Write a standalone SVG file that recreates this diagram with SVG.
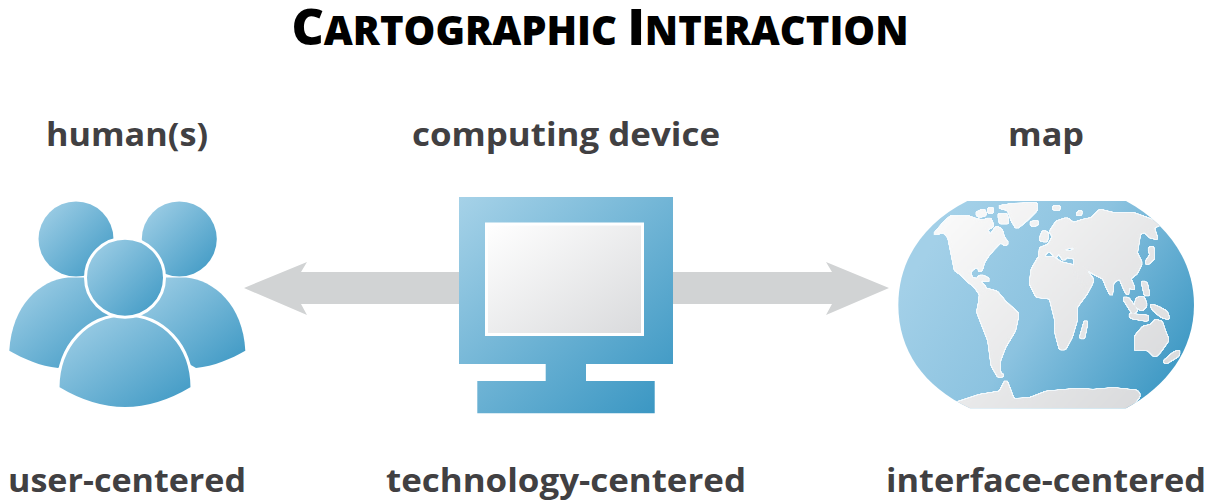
<svg xmlns="http://www.w3.org/2000/svg" width="1215" height="504" viewBox="0 0 1215 504">
<style>
.t{font-family:"Open Sans","Liberation Sans",sans-serif;font-weight:700;fill:#414042;text-anchor:middle}
.l{font-size:33px}
.h{font-family:"Open Sans","Liberation Sans",sans-serif;font-weight:800;fill:#000;text-anchor:middle;font-size:50px}
.s{font-size:40px}
.b{fill:url(#blue)}
.w{stroke:#fff;stroke-width:3}
.land path{fill:url(#land);fill-rule:evenodd}
.arrow{fill:#d1d3d4}
</style>
<defs>
<linearGradient id="blue" x1="0" y1="0" x2="1" y2="1"><stop offset="0" stop-color="#a6d2e8"/><stop offset="1" stop-color="#3b97c3"/></linearGradient>
<linearGradient id="bluep" gradientUnits="userSpaceOnUse" x1="459" y1="197" x2="655" y2="413"><stop offset="0" stop-color="#a6d2e8"/><stop offset="1" stop-color="#3b97c3"/></linearGradient>
<linearGradient id="blueg" gradientUnits="userSpaceOnUse" x1="180" y1="130" x2="880" y2="600"><stop offset="0" stop-color="#a3d0e8"/><stop offset=".45" stop-color="#8cc3e0"/><stop offset="1" stop-color="#3b97c3"/></linearGradient>
<linearGradient id="land" gradientUnits="userSpaceOnUse" x1="200" y1="60" x2="800" y2="640"><stop offset="0" stop-color="#fafafa"/><stop offset="1" stop-color="#d9dadc"/></linearGradient>
<linearGradient id="screen" x1="0" y1="0" x2="1" y2="1"><stop offset="0" stop-color="#fff"/><stop offset="1" stop-color="#d9dadc"/></linearGradient>
<clipPath id="gl"><path d="M262,33 L738,33 C860,100 942,210 942,345 C942,480 860,590 738,655 L270,655 C130,590 55,480 55,345 C55,210 130,100 262,33 Z"/></clipPath>
<filter id="organic" filterUnits="userSpaceOnUse" x="0" y="0" width="1000" height="700" color-interpolation-filters="sRGB">
<feGaussianBlur in="SourceGraphic" stdDeviation="3" result="bl"/>
<feComponentTransfer in="bl" result="shape"><feFuncA type="linear" slope="10" intercept="-3.500"/></feComponentTransfer>
<feMorphology in="shape" operator="dilate" radius="3" result="fat"/>
<feFlood flood-color="#fff" flood-opacity=".9"/>
<feComposite in2="fat" operator="in" result="edge"/>
<feMerge><feMergeNode in="edge"/><feMergeNode in="shape"/></feMerge>
</filter>
</defs>
<rect width="1215" height="504" fill="#fff"/>
<text id="title" class="h" x="600" y="45">C<tspan class="s">ARTOGRAPHIC </tspan>I<tspan class="s">NTERACTION</tspan></text>
<g id="connectors">
<path class="arrow" d="M244,288 L307,262 L301,272 L470,272 L470,304 L301,304 L307,315 Z"/>
<path class="arrow" d="M889,288 L826,262 L832,272 L660,272 L660,304 L832,304 L826,315 Z"/>
</g>
<g id="humans">
<text class="t l" x="127" y="146" textLength="162" lengthAdjust="spacingAndGlyphs">human(s)</text>
<circle class="b" cx="76" cy="239" r="37.500"/>
<circle class="b" cx="179.300" cy="239" r="37.500"/>
<path class="b" d="M9.300,350.700 C12,305 40,280 68,277.500 L110,277.500 L120,330 L58,368 C40,366 24,359 9.300,350.700 Z"/>
<path class="b" d="M245.300,350.700 C243,305 214,280 186,277.500 L140,277.500 L130,330 L196,368 C214,366 231,359 245.300,350.700 Z"/>
<path class="b w" d="M58,388 C58,345 88,315 125,315 C163,315 192,345 192,388 C172,400 148,408.500 125,408.500 C102,408.500 78,400 58,388 Z"/>
<circle class="b w" cx="125" cy="277.700" r="39.500"/>
</g>
<g id="device">
<text class="t l" x="566" y="146" textLength="308" lengthAdjust="spacingAndGlyphs">computing device</text>
<path fill="url(#bluep)" d="M459,197 H673 V364 H586 V381 H654.700 V413.300 H477.300 V381 H545.700 V364 H459 Z"/>
<rect x="486.500" y="224" width="156" height="110.500" fill="url(#screen)" stroke="#fff" stroke-width="3"/>
</g>
<g id="map">
<text class="t l" x="1046" y="146" textLength="76" lengthAdjust="spacingAndGlyphs">map</text>
<g transform="translate(880,190) scale(.33333)">
<path fill="url(#blueg)" d="M262,33 L738,33 C860,100 942,210 942,345 C942,480 860,590 738,655 L270,655 C130,590 55,480 55,345 C55,210 130,100 262,33 Z"/>
<g clip-path="url(#gl)"><g class="land" filter="url(#organic)">
<path d="M130,143 L165,130 195,95 215,78 260,78 285,87 310,92 330,85 340,108 320,118 330,138 350,110 365,120 372,145 385,160 375,165 362,155 340,178 325,195 312,215 305,240 295,245 298,230 280,235 270,245 275,265 295,268 305,255 312,262 300,275 318,295 300,312 285,290 260,270 240,250 225,240 215,190 205,140 190,125 160,135 Z"/>
<path d="M350,50 L400,42 470,40 470,60 440,90 410,115 395,90 385,60 Z"/>
<path d="M287,70 L312,58 318,75 297,80 Z"/>
<path d="M325,55 L340,55 338,68 325,68 Z"/>
<path d="M355,72 L380,72 385,100 360,100 Z"/>
<path d="M290,258 L315,260 332,272 312,272 Z"/>
<path d="M300,312 L320,297 350,305 375,335 415,372 405,420 375,470 360,510 360,550 375,558 355,560 335,525 325,450 292,365 298,335 Z"/>
<path d="M225,640 L300,615 360,605 378,570 390,600 400,628 450,625 500,605 590,597 640,600 700,595 770,602 780,615 770,630 738,665 270,665 Z"/>
<path d="M475,205 L515,200 545,218 578,226 590,260 610,292 640,272 620,310 590,350 590,390 575,440 555,478 540,478 527,430 525,385 510,325 470,320 450,280 455,240 Z"/>
<path d="M615,392 L622,395 612,445 600,445 Z"/>
<path d="M478,200 L480,175 505,165 520,140 510,125 530,95 560,85 580,100 610,90 635,85 660,60 700,70 760,70 830,95 840,105 810,115 820,150 810,140 795,125 780,130 775,160 770,190 785,220 770,250 750,265 765,300 745,290 745,320 730,290 720,265 700,275 695,320 680,290 670,265 640,250 625,240 612,232 640,270 615,290 592,255 582,222 585,205 558,200 552,212 535,186 528,203 510,182 495,190 492,205 Z M550,178 L580,170 585,180 560,186 Z"/>
<path d="M478,150 L490,122 505,130 500,155 Z"/>
<path d="M805,175 L820,170 822,205 800,225 798,215 812,195 Z"/>
<path d="M810,115 L820,110 832,148 825,148 Z"/>
<path d="M517,50 L540,48 537,60 520,58 Z"/>
<path d="M585,74 L605,60 604,74 Z"/>
<path d="M450,97 L475,93 472,105 455,107 Z"/>
<path d="M728,322 L745,325 772,362 758,370 Z"/>
<path d="M745,372 L805,378 802,392 755,384 Z"/>
<path d="M770,325 L790,320 800,345 785,362 765,345 Z"/>
<path d="M785,272 L800,280 808,316 795,316 Z"/>
<path d="M810,342 L835,352 860,365 868,388 845,380 820,360 Z"/>
<path d="M765,440 L790,410 815,405 825,390 845,395 855,425 865,450 840,485 825,500 805,480 765,480 Z"/>
<path d="M850,515 L880,490 900,480 895,497 858,520 Z"/>
</g></g>
</g>
</g>
<text class="t l" x="127" y="492" textLength="238" lengthAdjust="spacingAndGlyphs">user-centered</text>
<text class="t l" x="566" y="492" textLength="360" lengthAdjust="spacingAndGlyphs">technology-centered</text>
<text class="t l" x="1046" y="492" textLength="320" lengthAdjust="spacingAndGlyphs">interface-centered</text>
</svg>
